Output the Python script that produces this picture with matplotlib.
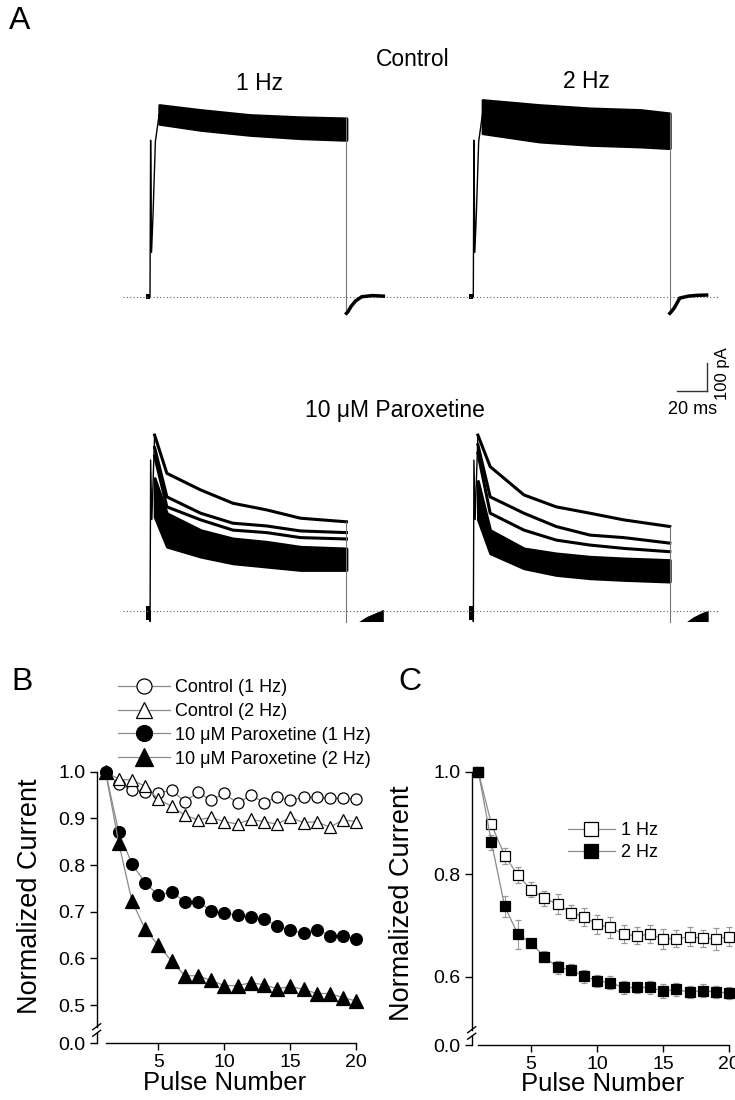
import matplotlib
matplotlib.use('Agg')
import matplotlib.pyplot as plt
import numpy as np

plt.rcParams['font.family'] = ['Liberation Sans', 'DejaVu Sans']

# ---------------- data ----------------
pulses = list(range(1, 21))
ctrl_1hz = [1.0, 0.973, 0.961, 0.957, 0.954, 0.961, 0.936, 0.956, 0.939, 0.954,
            0.932, 0.950, 0.934, 0.945, 0.939, 0.945, 0.946, 0.943, 0.943, 0.942]
ctrl_2hz = [1.0, 0.984, 0.982, 0.969, 0.941, 0.926, 0.907, 0.897, 0.902, 0.893,
            0.888, 0.898, 0.893, 0.888, 0.902, 0.891, 0.893, 0.881, 0.897, 0.893]
par_1hz = [1.0, 0.871, 0.803, 0.762, 0.736, 0.742, 0.722, 0.722, 0.702, 0.697,
           0.693, 0.688, 0.684, 0.670, 0.660, 0.655, 0.662, 0.649, 0.649, 0.642]
par_2hz = [1.0, 0.848, 0.723, 0.663, 0.628, 0.595, 0.563, 0.563, 0.553, 0.542,
           0.542, 0.548, 0.544, 0.535, 0.540, 0.534, 0.525, 0.525, 0.516, 0.509]
labels_B = ['Control (1 Hz)', 'Control (2 Hz)',
            '10 \u03bcM Paroxetine (1 Hz)', '10 \u03bcM Paroxetine (2 Hz)']

c1_mean = [1.0, 0.897, 0.836, 0.798, 0.770, 0.753, 0.742, 0.725, 0.717, 0.702,
           0.696, 0.683, 0.680, 0.683, 0.674, 0.674, 0.678, 0.675, 0.674, 0.678]
c1_err = [0.0, 0.009, 0.016, 0.016, 0.014, 0.015, 0.019, 0.015, 0.018, 0.018,
          0.020, 0.017, 0.017, 0.017, 0.020, 0.017, 0.018, 0.017, 0.021, 0.018]
c2_mean = [1.0, 0.862, 0.737, 0.683, 0.666, 0.639, 0.618, 0.614, 0.601, 0.592,
           0.588, 0.579, 0.579, 0.579, 0.572, 0.575, 0.570, 0.573, 0.570, 0.568]
c2_err = [0.0, 0.015, 0.020, 0.028, 0.008, 0.011, 0.013, 0.010, 0.013, 0.012,
          0.013, 0.012, 0.010, 0.012, 0.014, 0.012, 0.012, 0.012, 0.012, 0.012]
labels_C = ['1 Hz', '2 Hz']

# current traces (time in ms from pulse onset, current in pA)
pulse_end = 128
ctl_pre_t = [-2.5, 0]
ctl_on_t = [-0.3, 0, 0.4, 1.0, 2.0, 3.5, 6]
ctl_on_I = [0, 0, 565, 160, 300, 560, 660]
ctl1_t = [6, 33, 65, 98, 128]
ctl1_top = [692, 674, 656, 648, 644]
ctl1_bot = [624, 602, 584, 572, 566]
ctl2_t = [6, 43, 76, 109, 128]
ctl2_top = [710, 692, 680, 674, 662]
ctl2_bot = [590, 560, 548, 542, 536]
ctl1_tail_t = [128, 129, 131, 134, 138, 145, 152]
ctl1_tail_I = [-60, -54, -35, -15, 0, 4, 2]
ctl2_tail_t = [128, 129, 131, 134.5, 140, 146, 152]
ctl2_tail_I = [-60, -54, -40, -5, 2, 5, 6]

par_on_t = [-0.3, 0, 0.05, 0.4, 1.2, 3]
par_on_I = [0, -38, -38, 545, 330, 635]
par_t = [3, 11, 33, 54, 76, 98, 128]
par1_traces = [[635, 497, 437, 389, 365, 335, 322],
               [590, 412, 353, 317, 307, 289, 283],
               [560, 376, 329, 292, 283, 265, 260]]
par1_band_top = [480, 353, 292, 262, 250, 232, 226]
par1_band_bot = [340, 232, 196, 172, 160, 148, 148]
par2_traces = [[635, 521, 419, 376, 353, 329, 305],
               [600, 412, 353, 305, 274, 265, 245],
               [570, 353, 292, 256, 238, 226, 214]]
par2_band_top = [470, 292, 226, 208, 196, 190, 184]
par2_band_bot = [330, 208, 154, 130, 118, 112, 106]
par1_tail_t = [136, 141, 147, 152]
par1_tail_I = [-38, -20, -6, 6]
par2_tail_t = [139, 143, 148, 153]
par2_tail_I = [-38, -22, -8, 3]
scale_ms = 20
scale_pA = 100

# ---------------- figure ----------------
W, H = 735, 1100
fig = plt.figure(figsize=(W / 100, H / 100), dpi=100)


def fx(px):
    return px / W


def fy(py):
    return 1 - py / H


# ---------------- panel A ----------------
PX_PER_MS = 1.535
PX_PER_PA = 0.277
X0 = 150.0      # 1 Hz pulse onset (px)
Y0 = 296.7      # control baseline (px)
col_dt = 323.3 / PX_PER_MS
row_dI = -(611 - Y0) / PX_PER_PA
A_BOTTOM = 650

axA = fig.add_axes([0, fy(A_BOTTOM), 1, A_BOTTOM / H])
axA.set_xlim(-X0 / PX_PER_MS, (W - X0) / PX_PER_MS)
axA.set_ylim(-(A_BOTTOM - Y0) / PX_PER_PA, Y0 / PX_PER_PA)
axA.axis('off')


def sh(a, d):
    return np.asarray(a, dtype=float) + d


for dI in (0, row_dI):
    axA.plot([-17.6, 370], [dI, dI], ls=(0, (1, 2)), color='#666', lw=0.8)

# control traces
for dt, t, top, bot, tt, ti in ((0, ctl1_t, ctl1_top, ctl1_bot, ctl1_tail_t, ctl1_tail_I),
                                (col_dt, ctl2_t, ctl2_top, ctl2_bot, ctl2_tail_t, ctl2_tail_I)):
    axA.fill_between(sh(ctl_pre_t, dt), -8, 8, color='black', lw=0)
    axA.plot(sh(ctl_on_t, dt), ctl_on_I, color='black', lw=1.0)
    axA.fill_between(sh(t, dt), bot, top, color='black', lw=2.0, edgecolor='black')
    axA.plot(sh([pulse_end, pulse_end], dt), [top[-1], ti[0]], color='#777', lw=0.8)
    axA.plot(sh(tt, dt), ti, color='black', lw=2.5)

# paroxetine traces
for dt, trs, btop, bbot, tt, ti in ((0, par1_traces, par1_band_top, par1_band_bot, par1_tail_t, par1_tail_I),
                                    (col_dt, par2_traces, par2_band_top, par2_band_bot, par2_tail_t, par2_tail_I)):
    axA.fill_between(sh(ctl_pre_t, dt), row_dI - 32, row_dI + 18, color='black', lw=0)
    axA.plot(sh(par_on_t, dt), sh(par_on_I, row_dI), color='black', lw=1.0)
    for tr in trs:
        axA.plot(sh(par_t, dt), sh(tr, row_dI), color='black', lw=2.2)
    axA.fill_between(sh(par_t, dt), sh(bbot, row_dI), sh(btop, row_dI),
                     color='black', lw=2.0, edgecolor='black')
    axA.plot(sh([pulse_end, pulse_end], dt), [row_dI + trs[0][-1], row_dI - 38], color='#777', lw=0.8)
    axA.fill_between(sh(tt, dt), row_dI - 38, sh(ti, row_dI), color='black', lw=0)

# scale bar
sb_t = (707.3 - X0) / PX_PER_MS
sb_I = -(391 - Y0) / PX_PER_PA
axA.plot([sb_t - scale_ms, sb_t], [sb_I, sb_I], color='#333', lw=1.0)
axA.plot([sb_t, sb_t], [sb_I, sb_I + scale_pA], color='#333', lw=1.0)
fig.text(fx(693), fy(409), f'{scale_ms} ms', ha='center', va='center', fontsize=13)
fig.text(fx(722), fy(374), f'{scale_pA} pA', ha='center', va='center', fontsize=12, rotation=90)

fig.text(fx(413), fy(60), 'Control', ha='center', va='center', fontsize=16.5)
fig.text(fx(260), fy(83), '1 Hz', ha='center', va='center', fontsize=16.5)
fig.text(fx(586), fy(82), '2 Hz', ha='center', va='center', fontsize=16.5)
fig.text(fx(395), fy(410), '10 \u03bcM Paroxetine', ha='center', va='center', fontsize=16.5)

fig.text(fx(20), fy(21), 'A', ha='center', va='center', fontsize=23)
fig.text(fx(22), fy(682), 'B', ha='center', va='center', fontsize=23)
fig.text(fx(410), fy(682), 'C', ha='center', va='center', fontsize=23)


# ---------------- helper for B / C axes ----------------
def style_axis(ax, ybot, yticks, ylabels, brk):
    for s in ('top', 'right', 'left'):
        ax.spines[s].set_visible(False)
    ax.spines['bottom'].set_bounds(1, 20)
    ax.spines['bottom'].set_linewidth(1.0)
    ax.set_xticks([5, 10, 15, 20])
    ax.set_yticks([ybot] + yticks)
    ax.set_yticklabels(['0.0'] + ylabels)
    ax.tick_params(direction='out', length=5, width=1.0, labelsize=14, pad=3)
    ax.set_xlabel('Pulse Number', fontsize=18.5)
    ax.set_ylabel('Normalized Current', fontsize=19.5)
    # broken y axis
    kw = dict(transform=ax.transAxes, color='black', lw=1.0, clip_on=False)
    gap = 0.012
    ax.plot([0, 0], [0, brk - gap], **kw)
    ax.plot([0, 0], [brk + gap, 1], **kw)
    bb = ax.get_position()
    dx = 4 / (bb.width * W)
    dy = 3 / (bb.height * H)
    for yb in (brk - gap, brk + gap):
        ax.plot([-dx, dx], [yb - dy, yb + dy], **kw)


# ---------------- panel B ----------------
B_BOT = 0.419
axB = fig.add_axes([fx(96.7), fy(1043), 259.6 / W, 271.3 / H])
axB.set_xlim(1 - 8.8 / 13.2, 20)
axB.set_ylim(B_BOT, 1.0)
line_kw = dict(color='#8a8a8a', lw=0.9, mec='black', mew=0.9, clip_on=False)
axB.plot(pulses, ctrl_1hz, marker='o', ms=8, mfc='white', label=labels_B[0], **line_kw)
axB.plot(pulses, ctrl_2hz, marker='^', ms=9, mfc='white', label=labels_B[1], **line_kw)
axB.plot(pulses, par_1hz, marker='o', ms=8.5, mfc='black', label=labels_B[2], **line_kw)
axB.plot(pulses, par_2hz, marker='^', ms=9.5, mfc='black', label=labels_B[3], **line_kw)
style_axis(axB, B_BOT, [0.5, 0.6, 0.7, 0.8, 0.9, 1.0],
           ['0.5', '0.6', '0.7', '0.8', '0.9', '1.0'], 0.048)
axB.xaxis.set_label_coords(0.494, -0.105)
axB.yaxis.set_label_coords(-0.205, 0.54)
axB.legend(loc='upper left', bbox_to_anchor=(fx(118), fy(679)), bbox_transform=fig.transFigure,
           frameon=False, fontsize=13, handlelength=2.9, handletextpad=0.25,
           labelspacing=0.38, borderpad=0, borderaxespad=0, markerscale=1.35)

# ---------------- panel C ----------------
C_BOT = 0.4667
axC = fig.add_axes([fx(471.7), fy(1045), 257.4 / W, 273.3 / H])
axC.set_xlim(0.5, 20)
axC.set_ylim(C_BOT, 1.0)
eb_kw = dict(fmt='-s', color='#8a8a8a', lw=0.9, ecolor='#999999', elinewidth=0.8,
             capsize=2.5, capthick=0.8, ms=7.5, mec='black', mew=0.9, clip_on=False)
eb1 = axC.errorbar(pulses, c1_mean, yerr=c1_err, mfc='white', **eb_kw)
eb2 = axC.errorbar(pulses, c2_mean, yerr=c2_err, mfc='black', **eb_kw)
style_axis(axC, C_BOT, [0.6, 0.8, 1.0], ['0.6', '0.8', '1.0'], 0.044)
axC.xaxis.set_label_coords(0.51, -0.1)
axC.yaxis.set_label_coords(-0.22, 0.52)
axC.legend([eb1[0], eb2[0]], labels_C, loc='upper left', bbox_to_anchor=(fx(568), fy(822)),
           bbox_transform=fig.transFigure,
           frameon=False, fontsize=13, handlelength=2.6, handletextpad=0.35,
           labelspacing=0.3, borderpad=0, borderaxespad=0, markerscale=1.25)

fig.savefig('out.png', dpi=100)
